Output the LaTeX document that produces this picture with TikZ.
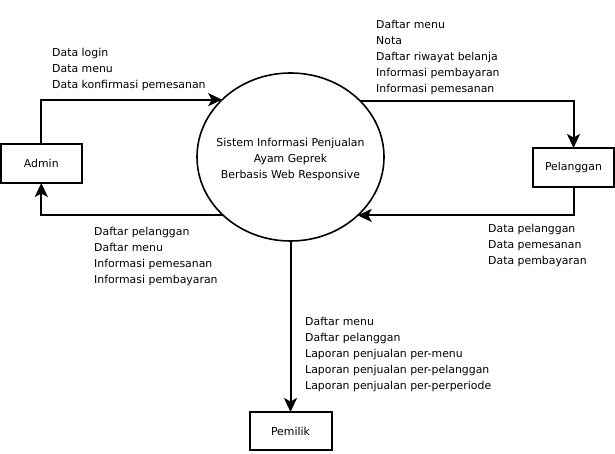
\documentclass[tikz,border=0pt]{standalone}
\usepackage{fontspec}
\setmainfont{DejaVu Sans}
\usetikzlibrary{arrows.meta,shapes.geometric}
\begin{document}
\begin{tikzpicture}[x=1pt,y=1pt,
  every node/.style={font=\fontsize{10.9}{16}\selectfont},
  entity/.style={draw,line width=2pt,minimum width=81pt,minimum height=39pt,inner sep=0pt,outer sep=0pt},
  proc/.style={draw,ellipse,line width=1.6pt,minimum width=187pt,minimum height=168pt,inner sep=0pt,outer sep=0pt},
  flow/.style={line width=2pt,-{Stealth[length=14pt,width=13pt,inset=3.5pt]}},
  lbl/.style={anchor=west,align=left,inner sep=0pt}]
\useasboundingbox (0,0) rectangle (615,453);
\node[proc] (sys) at (290.5,296) {};
\node[align=center,inner sep=0pt] (systxt) at (290.5,294) {Sistem Informasi Penjualan\\Ayam Geprek\\Berbasis Web Responsive};
\node[entity] (admin) at (41.3,289.5) {Admin};
\node[entity] (pel) at (573.5,285.5) {Pelanggan};
\node[entity,minimum width=82pt,minimum height=38pt] (pem) at (290.5,22) {Pemilik};
\draw[flow] (admin.north) |- (sys.140.3);
\draw[flow] (sys.39.7) -| (pel.north);
\draw[flow] (pel.south) |- (sys.-41.6);
\draw[flow] (sys.221.6) -| (admin.south);
\draw[flow] (sys.south) -- (pem.north);
\node[lbl] (l1) at (52,384) {Data login\\Data menu\\Data konfirmasi pemesanan};
\node[lbl] (l2) at (376,395.5) {Daftar menu\\Nota\\Daftar riwayat belanja\\Informasi pembayaran\\Informasi pemesanan};
\node[lbl] (l3) at (488,208) {Data pelanggan\\Data pemesanan\\Data pembayaran};
\node[lbl] (l4) at (94,197) {Daftar pelanggan\\Daftar menu\\Informasi pemesanan\\Informasi pembayaran};
\node[lbl] (l5) at (305,99) {Daftar menu\\Daftar pelanggan\\Laporan penjualan per-menu\\Laporan penjualan per-pelanggan\\Laporan penjualan per-perperiode};
\end{tikzpicture}
\end{document}
